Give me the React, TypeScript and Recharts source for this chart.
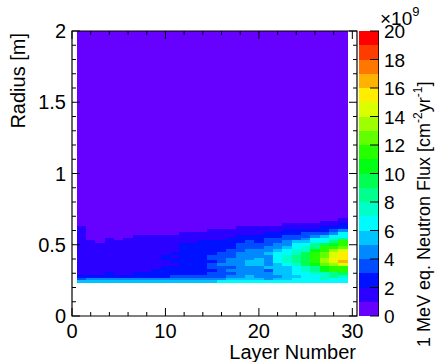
import React from "react";
import { ComposedChart, XAxis, YAxis, ReferenceArea } from "recharts";

const FONT = "'Liberation Sans', Arial, Helvetica, sans-serif";

// layer numbers (x bins, width 1 centred on the layer)
const layers = [1, 2, 3, 4, 5, 6, 7, 8, 9, 10, 11, 12, 13, 14, 15, 16, 17, 18, 19, 20, 21, 22, 23, 24, 25, 26, 27, 28, 29];

// radius bin edges in m, last bin runs up to the top of the frame
const radiusEdges = [
  0.23, 0.25, 0.27, 0.29, 0.31, 0.33, 0.35, 0.37, 0.39, 0.41, 0.43, 0.45, 0.47,
  0.49, 0.51, 0.53, 0.55, 0.57, 0.59, 0.61, 0.63, 0.65, 0.67, 0.69, 0.71, 2.0,
];

// 1 MeV eq. neutron flux in 1e9 cm^-2 yr^-1, one row per layer, bins from low radius up
const fluxByLayer = [
  [5.2, 3.4, 2.1, 1.8, 1.7, 1.6, 1.6, 1.5, 1.5, 1.5, 1.4, 1.4, 1.4, 1.3, 1.3, 1.3, 1.2, 1.2, 1.1, 1.1, 0.5, 0.5, 0.5, 0.5, 0.5],
  [5.4, 4.2, 2.2, 1.9, 1.8, 1.7, 1.6, 1.6, 1.5, 1.5, 1.4, 1.4, 1.3, 1.2, 1.1, 0.5, 0.5, 0.5, 0.5, 0.5, 0.5, 0.5, 0.5, 0.5, 0.5],
  [5.4, 4.3, 2.3, 1.9, 1.8, 1.8, 1.7, 1.6, 1.6, 1.5, 1.4, 1.3, 1.2, 1.1, 0.5, 0.5, 0.5, 0.5, 0.5, 0.5, 0.5, 0.5, 0.5, 0.5, 0.5],
  [5.5, 4.3, 2.4, 2.1, 1.9, 1.8, 1.7, 1.7, 1.6, 1.6, 1.5, 1.4, 1.4, 1.3, 1.2, 1.1, 0.5, 0.5, 0.5, 0.5, 0.5, 0.5, 0.5, 0.5, 0.5],
  [5.5, 4.4, 2.4, 1.9, 1.9, 1.8, 1.8, 1.7, 1.7, 1.6, 1.5, 1.5, 1.4, 1.3, 1.1, 0.5, 0.5, 0.5, 0.5, 0.5, 0.5, 0.5, 0.5, 0.5, 0.5],
  [5.5, 4.4, 2.5, 1.9, 1.9, 1.8, 1.8, 1.8, 1.7, 1.7, 1.6, 1.5, 1.4, 1.3, 1.2, 1.1, 0.5, 0.5, 0.5, 0.5, 0.5, 0.5, 0.5, 0.5, 0.5],
  [5.6, 4.5, 2.5, 2.2, 1.9, 1.9, 1.8, 1.8, 1.8, 1.7, 1.7, 1.6, 1.5, 1.4, 1.3, 1.2, 1.1, 0.5, 0.5, 0.5, 0.5, 0.5, 0.5, 0.5, 0.5],
  [5.6, 4.5, 2.6, 2.3, 1.9, 1.9, 1.9, 1.8, 1.8, 1.8, 1.7, 1.6, 1.5, 1.4, 1.3, 1.2, 1.1, 0.5, 0.5, 0.5, 0.5, 0.5, 0.5, 0.5, 0.5],
  [5.6, 4.6, 2.6, 2.1, 2.0, 1.9, 1.9, 1.9, 1.9, 1.8, 1.8, 1.7, 1.6, 1.5, 1.4, 1.2, 1.1, 0.5, 0.5, 0.5, 0.5, 0.5, 0.5, 0.5, 0.5],
  [5.7, 4.6, 2.7, 2.2, 2.3, 2.2, 1.9, 1.9, 2.1, 2.2, 1.9, 1.8, 1.7, 1.5, 1.4, 1.3, 1.1, 0.5, 0.5, 0.5, 0.5, 0.5, 0.5, 0.5, 0.5],
  [5.7, 4.6, 3.1, 2.4, 2.3, 2.1, 1.9, 2.2, 2.1, 1.9, 2.1, 1.9, 1.8, 1.7, 1.5, 1.3, 1.1, 0.5, 0.5, 0.5, 0.5, 0.5, 0.5, 0.5, 0.5],
  [5.8, 4.7, 3.2, 2.5, 2.5, 2.4, 2.4, 2.3, 2.3, 2.2, 2.2, 2.1, 2.0, 2.0, 1.8, 1.6, 1.4, 1.1, 0.5, 0.5, 0.5, 0.5, 0.5, 0.5, 0.5],
  [5.8, 4.7, 3.3, 2.6, 2.6, 2.5, 2.5, 2.4, 2.4, 2.3, 2.3, 2.2, 2.1, 2.0, 1.9, 1.7, 1.5, 1.2, 0.5, 0.5, 0.5, 0.5, 0.5, 0.5, 0.5],
  [5.9, 4.8, 3.4, 2.8, 2.7, 2.7, 2.6, 2.6, 2.5, 2.5, 2.4, 2.3, 2.2, 2.1, 2.0, 1.8, 1.5, 1.2, 0.5, 0.5, 0.5, 0.5, 0.5, 0.5, 0.5],
  [5.9, 4.8, 3.5, 3.2, 2.9, 3.1, 3.2, 2.8, 3.1, 3.0, 2.7, 2.5, 2.3, 2.2, 2.0, 1.8, 1.6, 1.4, 1.1, 0.5, 0.5, 0.5, 0.5, 0.5, 0.5],
  [6.0, 4.9, 3.7, 3.4, 3.3, 3.5, 4.1, 3.6, 3.4, 3.3, 3.1, 2.8, 2.5, 2.3, 2.1, 1.9, 1.7, 1.4, 1.1, 0.5, 0.5, 0.5, 0.5, 0.5, 0.5],
  [6.0, 5.0, 4.1, 3.9, 4.1, 3.8, 4.0, 4.3, 4.1, 3.8, 3.5, 3.2, 2.9, 2.7, 2.5, 2.2, 1.9, 1.5, 1.3, 0.5, 0.5, 0.5, 0.5, 0.5, 0.5],
  [6.1, 5.0, 4.2, 4.0, 4.1, 4.2, 4.3, 4.5, 4.4, 4.3, 4.1, 3.9, 3.5, 3.2, 2.8, 2.4, 2.1, 1.7, 1.4, 1.1, 0.5, 0.5, 0.5, 0.5, 0.5],
  [6.1, 5.1, 5.0, 4.1, 4.3, 4.5, 5.0, 5.1, 4.6, 4.3, 4.1, 4.0, 3.7, 3.4, 3.1, 2.7, 2.3, 1.9, 1.5, 1.1, 0.5, 0.5, 0.5, 0.5, 0.5],
  [6.2, 5.2, 4.1, 4.2, 4.4, 4.6, 5.0, 5.3, 5.1, 4.5, 4.3, 4.1, 3.6, 3.2, 2.8, 2.5, 2.2, 1.8, 1.5, 1.1, 0.5, 0.5, 0.5, 0.5, 0.5],
  [6.2, 4.7, 4.4, 4.3, 3.9, 5.0, 4.5, 4.7, 4.8, 4.6, 5.1, 4.3, 4.0, 3.7, 3.4, 3.1, 2.6, 2.2, 1.7, 1.4, 0.5, 0.5, 0.5, 0.5, 0.5],
  [6.3, 5.3, 4.8, 5.0, 5.2, 5.4, 5.6, 6.1, 6.4, 6.5, 6.2, 5.2, 4.6, 4.3, 3.6, 3.2, 2.6, 2.3, 1.7, 1.4, 0.5, 0.5, 0.5, 0.5, 0.5],
  [6.4, 5.4, 5.1, 5.3, 5.5, 5.7, 6.6, 7.0, 7.3, 7.1, 6.5, 6.2, 5.4, 4.7, 4.3, 3.6, 3.2, 2.6, 2.2, 1.6, 1.2, 0.5, 0.5, 0.5, 0.5],
  [6.3, 6.0, 5.8, 6.1, 6.4, 6.7, 7.9, 8.3, 8.8, 8.4, 7.8, 7.5, 6.6, 6.2, 5.3, 3.8, 3.4, 2.7, 2.3, 1.6, 1.3, 0.5, 0.5, 0.5, 0.5],
  [6.3, 6.2, 6.4, 6.8, 7.4, 7.8, 9.1, 9.5, 9.8, 9.6, 9.2, 7.8, 7.3, 6.4, 5.6, 4.5, 3.7, 3.3, 2.4, 1.7, 1.4, 0.5, 0.5, 0.5, 0.5],
  [6.4, 6.5, 6.8, 7.1, 8.2, 8.7, 10.2, 11.0, 11.3, 11.5, 11.2, 10.3, 8.8, 8.3, 6.6, 6.2, 4.4, 3.4, 2.5, 1.7, 1.5, 0.5, 0.5, 0.5, 0.5],
  [6.5, 7.0, 7.2, 7.6, 10.1, 10.5, 12.3, 13.0, 13.2, 12.6, 12.1, 11.6, 11.2, 9.4, 6.8, 6.3, 5.4, 3.5, 2.7, 2.3, 1.6, 1.4, 0.5, 0.5, 0.5],
  [6.3, 6.6, 8.1, 8.6, 11.0, 11.4, 13.6, 14.5, 15.3, 14.6, 14.1, 13.2, 11.3, 10.4, 8.5, 7.2, 6.4, 4.5, 3.5, 2.4, 1.6, 1.4, 0.5, 0.5, 0.5],
  [6.4, 6.5, 7.5, 9.3, 11.0, 11.5, 14.6, 16.6, 15.6, 15.5, 15.2, 14.3, 12.5, 11.8, 11.2, 8.4, 6.7, 6.3, 4.4, 2.6, 2.3, 1.5, 1.4, 0.5, 0.5],
];

// 20 contour colours, violet -> red
const palette = [
  "#6600ff", "#2b00ff", "#0011ff", "#004dff", "#0088ff",
  "#00c4ff", "#00fbff", "#00ffc8", "#00ff8c", "#00ff51",
  "#00ff15", "#26ff00", "#62ff00", "#9dff00", "#d9ff00",
  "#ffee00", "#ffb300", "#ff7700", "#ff3c00", "#ff0000",
];

const xTicks = [0, 2, 4, 6, 8, 10, 12, 14, 16, 18, 20, 22, 24, 26, 28, 30];
const yTicks = [0, 0.1, 0.2, 0.3, 0.4, 0.5, 0.6, 0.7, 0.8, 0.9, 1, 1.1, 1.2, 1.3, 1.4, 1.5, 1.6, 1.7, 1.8, 1.9, 2];
const zTicks = [0, 2, 4, 6, 8, 10, 12, 14, 16, 18, 20];

const X_MAX = 30.5;
const Y_MAX = 2;
const Z_MAX = 20;

const bandOf = (v: number) =>
  Math.max(0, Math.min(palette.length - 1, Math.floor((v / Z_MAX) * palette.length)));

// merge neighbouring bins of the same colour inside a layer
const cells: { key: string; x1: number; x2: number; y1: number; y2: number; color: string }[] = [];
layers.forEach((layer, li) => {
  const values = fluxByLayer[li];
  let start = 0;
  for (let i = 1; i <= values.length; i++) {
    if (i === values.length || bandOf(values[i]) !== bandOf(values[start])) {
      cells.push({
        key: `${layer}-${start}`,
        x1: layer - 0.5,
        x2: layer + 0.5,
        y1: radiusEdges[start],
        y2: radiusEdges[i],
        color: palette[bandOf(values[start])],
      });
      start = i;
    }
  }
});

const zBands = palette.map((color, k) => ({
  color,
  lo: (k * Z_MAX) / palette.length,
  hi: ((k + 1) * Z_MAX) / palette.length,
}));

const near = (v: number, step: number) => Math.abs(v / step - Math.round(v / step)) < 1e-6;

// tick marks are thin filled rects, pointing into the frame
function BottomTick({ x, y, payload }: any) {
  const major = near(payload.value, 10);
  const len = major ? 8 : 4;
  return (
    <g>
      <rect x={x - 0.5} y={y - len} width={1} height={len} fill="#000" />
      {major && (
        <text x={x} y={y + 22} textAnchor="middle" fontSize={20} fontFamily={FONT} fill="#000">
          {payload.value}
        </text>
      )}
    </g>
  );
}

function TopTick({ x, y, payload }: any) {
  const len = near(payload.value, 10) ? 8 : 4;
  return <rect x={x - 0.5} y={y} width={1} height={len} fill="#000" />;
}

function LeftTick({ x, y, payload }: any) {
  const major = near(payload.value, 0.5);
  const len = major ? 8 : 4;
  return (
    <g>
      <rect x={x} y={y - 0.5} width={len} height={1} fill="#000" />
      {major && (
        <text x={x - 6} y={y + 7} textAnchor="end" fontSize={20} fontFamily={FONT} fill="#000">
          {String(payload.value)}
        </text>
      )}
    </g>
  );
}

function RightTick({ x, y, payload }: any) {
  const len = near(payload.value, 0.5) ? 8 : 4;
  return <rect x={x - len} y={y - 0.5} width={len} height={1} fill="#000" />;
}

function ZTick({ x, y, payload }: any) {
  return (
    <g>
      <rect x={x - 9} y={y - 0.5} width={9} height={1} fill="#000" />
      <text x={x + 5} y={y + 7} textAnchor="start" fontSize={19} fontFamily={FONT} fill="#000">
        {payload.value}
      </text>
    </g>
  );
}

export default function App() {
  return (
    <div style={{ position: "absolute", left: 0, top: 0, width: 441, height: 362, background: "#fff" }}>
      <div style={{ position: "absolute", left: 0, top: 0 }}>
        <ComposedChart width={441} height={362} margin={{ top: 31, right: 84, bottom: 16, left: 22 }}>
          <XAxis
            type="number"
            dataKey="x"
            domain={[0, X_MAX]}
            allowDataOverflow
            ticks={xTicks}
            interval={0}
            height={30}
            tickSize={0}
            tickMargin={0}
            tick={<BottomTick />}
            axisLine={false}
          />
          <XAxis
            xAxisId="top"
            orientation="top"
            mirror
            type="number"
            dataKey="x"
            domain={[0, X_MAX]}
            allowDataOverflow
            ticks={xTicks}
            interval={0}
            tickSize={0}
            tickMargin={0}
            tick={<TopTick />}
            axisLine={false}
          />
          <YAxis
            type="number"
            dataKey="y"
            domain={[0, Y_MAX]}
            allowDataOverflow
            ticks={yTicks}
            interval={0}
            width={50}
            tickSize={0}
            tickMargin={0}
            tick={<LeftTick />}
            axisLine={false}
          />
          <YAxis
            yAxisId="right"
            orientation="right"
            mirror
            type="number"
            dataKey="y"
            domain={[0, Y_MAX]}
            allowDataOverflow
            ticks={yTicks}
            interval={0}
            tickSize={0}
            tickMargin={0}
            tick={<RightTick />}
            axisLine={false}
          />
          {cells.map((c) => (
            <ReferenceArea
              key={c.key}
              x1={c.x1}
              x2={c.x2}
              y1={c.y1}
              y2={c.y2}
              fill={c.color}
              fillOpacity={1}
              stroke="none"
              shapeRendering="crispEdges"
              ifOverflow="visible"
            />
          ))}
          <ReferenceArea
            x1={0}
            x2={X_MAX}
            y1={0}
            y2={Y_MAX}
            fill="none"
            fillOpacity={0}
            stroke="#000"
            strokeWidth={1.2}
            strokeOpacity={1}
            ifOverflow="visible"
          />
          <text x={356} y={359} textAnchor="end" fontSize={20} fontFamily={FONT} fill="#000">
            Layer Number
          </text>
          <text transform="rotate(-90)" x={-33} y={25} textAnchor="end" fontSize={20} fontFamily={FONT} fill="#000">
            Radius [m]
          </text>
        </ComposedChart>
      </div>
      <div style={{ position: "absolute", left: 0, top: 0 }}>
        <ComposedChart width={441} height={362} margin={{ top: 31, right: 62, bottom: 46, left: 359 }}>
          <XAxis type="number" dataKey="x" domain={[0, 1]} allowDataOverflow height={0} tick={false} axisLine={false} tickLine={false} />
          <YAxis
            orientation="right"
            mirror
            type="number"
            dataKey="z"
            domain={[0, Z_MAX]}
            allowDataOverflow
            ticks={zTicks}
            interval={0}
            tickSize={0}
            tickMargin={0}
            tick={<ZTick />}
            axisLine={false}
          />
          {zBands.map((b) => (
            <ReferenceArea
              key={b.lo}
              x1={0}
              x2={1}
              y1={b.lo}
              y2={b.hi}
              fill={b.color}
              fillOpacity={1}
              stroke="none"
              shapeRendering="crispEdges"
              ifOverflow="visible"
            />
          ))}
          <ReferenceArea x1={0.96} x2={1} y1={0} y2={Z_MAX} fill="#000" fillOpacity={1} stroke="none" ifOverflow="visible" />
          <text x={380} y={25} fontSize={19} fontFamily={FONT} fill="#000">
            ×10<tspan fontSize={13} dy={-9}>9</tspan>
          </text>
          <text transform="rotate(-90)" x={-347} y={430} textAnchor="start" fontSize={18} fontFamily={FONT} fill="#000">
            1 MeV eq. Neutron Flux [cm<tspan fontSize={12} dy={-8}>-2</tspan>
            <tspan dy={8}>yr</tspan>
            <tspan fontSize={12} dy={-8}>-1</tspan>
            <tspan dy={8}>]</tspan>
          </text>
        </ComposedChart>
      </div>
    </div>
  );
}
